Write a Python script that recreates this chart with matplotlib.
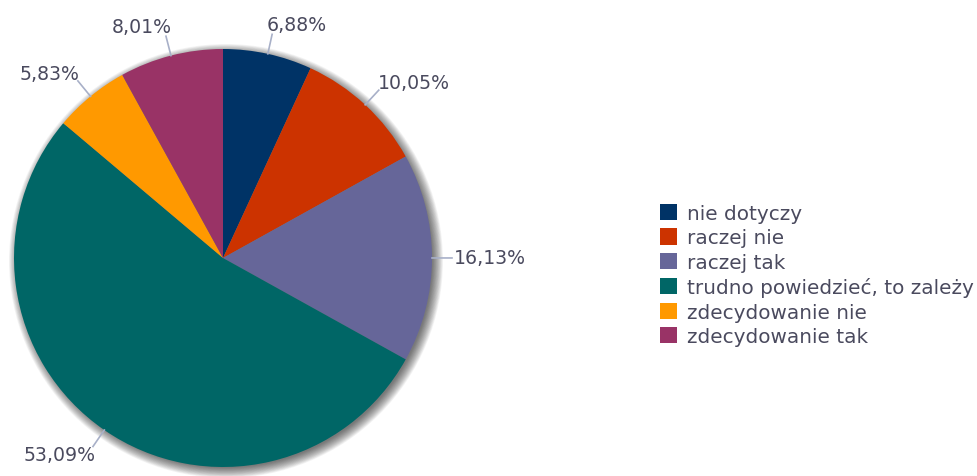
import numpy as np
import matplotlib
matplotlib.use("Agg")
import matplotlib.pyplot as plt
from matplotlib.patches import Patch, Circle

categories = ["nie dotyczy", "raczej nie", "raczej tak",
              "trudno powiedzieć, to zależy", "zdecydowanie nie", "zdecydowanie tak"]
values = [6.88, 10.05, 16.13, 53.09, 5.83, 8.01]
value_labels = ["6,88%", "10,05%", "16,13%", "53,09%", "5,83%", "8,01%"]
colors = ["#003366", "#cc3300", "#666699", "#006666", "#ff9900", "#993366"]

W, H = 978, 477
fig = plt.figure(figsize=(W / 100, H / 100), dpi=100)
ax = fig.add_axes([0, 0, 1, 1])

cx, cy, R = 223, H - 259, 209
text_color = "#4a4a5e"
fs = 13.6

# shadow
n = 16
for k in range(n):
    ax.add_patch(Circle((cx + 3, cy - 3), R + 8 - k * 0.7,
                        facecolor="black", edgecolor="none", alpha=0.045, zorder=0))

wedges, _ = ax.pie(values, colors=colors, startangle=90, counterclock=False,
                   center=(cx, cy), radius=R, wedgeprops=dict(linewidth=0))
for w in wedges:
    w.set_zorder(2)

# labels with connectors
total = sum(values)
cum = 0
for v, lab in zip(values, value_labels):
    mid = np.deg2rad(90 - (cum + v / 2) / total * 360)
    cum += v
    c, s = np.cos(mid), np.sin(mid)
    ax.plot([cx + R * c, cx + (R + 20) * c], [cy + R * s, cy + (R + 20) * s],
            color="#a8b0c8", lw=1.2, zorder=3)
    tx = cx + (R + 30) * c
    ty = cy + (R + 30) * s
    if c >= 0:
        ax.text(tx - 8, ty, lab, ha="left", va="center", fontsize=fs, color=text_color)
    else:
        ax.text(tx + 8, ty, lab, ha="right", va="center", fontsize=fs, color=text_color)

ax.set_xlim(0, W)
ax.set_ylim(0, H)
ax.set_aspect("auto")
ax.axis("off")

handles = [Patch(facecolor=col, edgecolor="none") for col in colors]
fig.legend(handles, categories, loc="upper left",
           bbox_to_anchor=(654 / W, 1 - 199 / H), frameon=False,
           fontsize=14.4, handlelength=0.86, handleheight=0.86,
           handletextpad=0.5, labelspacing=0.27, labelcolor=text_color,
           borderaxespad=0, borderpad=0.3)

fig.savefig("out.png", dpi=100)
